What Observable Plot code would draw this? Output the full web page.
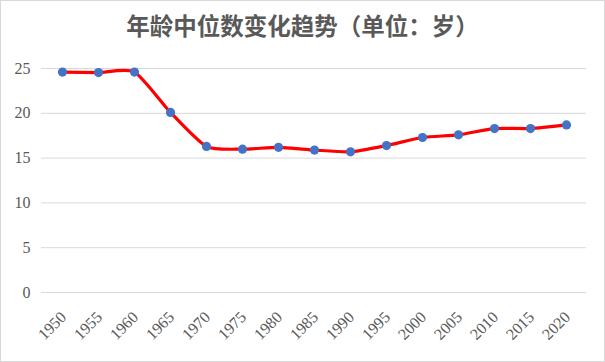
<!DOCTYPE html>
<html>
<head>
<meta charset="utf-8">
<script src="https://cdn.jsdelivr.net/npm/d3@7"></script>
<script src="https://cdn.jsdelivr.net/npm/@observablehq/plot@0.6"></script>
<style>
  html, body { margin: 0; padding: 0; background: #fff; }
  #wrap { position: relative; width: 605px; height: 362px; overflow: hidden; background: #fff; }
  #title { height: 40px; line-height: 50px; text-align: center; font-family: "Noto Sans CJK SC", sans-serif; font-weight: bold; font-size: 23.5px; color: #595959; white-space: nowrap; }
  #border { position: absolute; left: 0; top: 0; width: 605px; height: 362px; box-sizing: border-box; border: 1px solid #d9d9d9; pointer-events: none; }
  svg { display: block; }
</style>
</head>
<body>
<div id="wrap">
  <div id="title">年龄中位数变化趋势（单位：岁）</div>
  <div id="chart"></div>
  <div id="border"></div>
</div>
<script>
const years = ["1950","1955","1960","1965","1970","1975","1980","1985","1990","1995","2000","2005","2010","2015","2020"];
const medianAge = [24.6, 24.55, 24.6, 20.1, 16.3, 16.0, 16.2, 15.9, 15.7, 16.4, 17.3, 17.6, 18.3, 18.3, 18.7];
const yTicks = [0, 5, 10, 15, 20, 25];

const data = years.map((y, i) => ({year: y, value: medianAge[i]}));

const chart = Plot.plot({
  width: 605,
  height: 322,
  marginTop: 28,
  marginBottom: 70,
  marginLeft: 41,
  marginRight: 19,
  style: {fontFamily: "'Liberation Serif', serif", fontSize: "16px", color: "#595959", background: "transparent"},
  x: {type: "point", domain: years, padding: 0.5, label: null, axis: null},
  y: {domain: [0, 25], label: null},
  marks: [
    Plot.gridY(yTicks, {stroke: "#d9d9d9", strokeOpacity: 1, strokeWidth: 1}),
    Plot.axisY(yTicks, {tickSize: 0, tickPadding: 11, fill: "#595959", fontSize: 16, label: null}),
    Plot.text(years, {x: d => d, frameAnchor: "bottom", dx: 1, dy: 22, rotate: -45, textAnchor: "end", lineAnchor: "middle", fill: "#595959", fontSize: 16}),
    Plot.line(data, {x: "year", y: "value", stroke: "#ff0000", strokeWidth: 3.2, curve: d3.curveCardinal.tension(0.35)}),
    Plot.dot(data, {x: "year", y: "value", r: 4.6, fill: "#4472c4", stroke: "none"})
  ]
});
document.getElementById("chart").appendChild(chart);
</script>
</body>
</html>
